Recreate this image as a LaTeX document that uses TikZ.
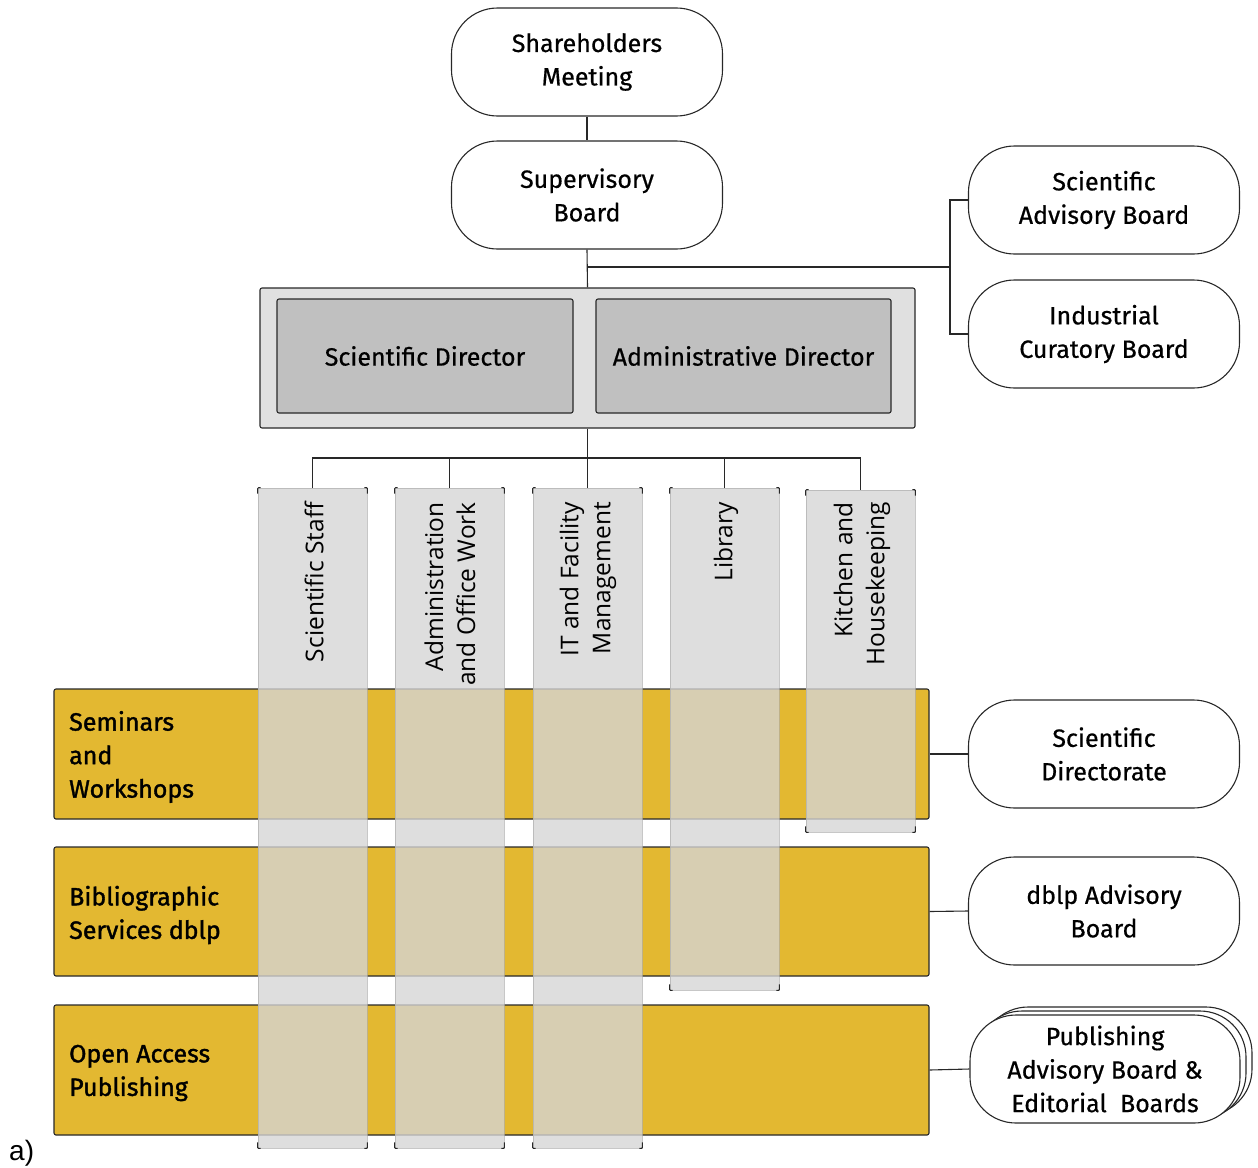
\documentclass[tikz,border=0pt]{standalone}
\usepackage{fontspec}
\setmainfont{Fira Sans}[FakeBold=0.6]
\newfontfamily\bandfont{Fira Sans}[FakeBold=1.4]
\newfontfamily\colfont{Open Sans}
\newfontfamily\arialfont{Liberation Sans}
\usetikzlibrary{shadows,calc}
\definecolor{bandyellow}{RGB}{227,184,49}
\definecolor{colgray}{RGB}{213,213,213}
\definecolor{dirouter}{RGB}{224,224,224}
\definecolor{dirinner}{RGB}{192,192,192}
\definecolor{coledge}{RGB}{175,175,175}
\definecolor{linecol}{RGB}{40,40,40}
\begin{document}
\begin{tikzpicture}[x=1pt,y=-1pt,
  txt/.style={font=\fontsize{25}{33.5}\selectfont},
  board/.style={txt, draw=linecol, line width=1.1pt, fill=white, rounded corners=46pt,
    minimum width=271pt, minimum height=108pt, align=center, inner sep=0pt,
    execute at begin node={\rule{0pt}{28pt}}},
  dirbox/.style={draw=linecol, line width=1.1pt, fill=dirouter, rounded corners=2pt,
    minimum width=655pt, minimum height=140pt},
  dirin/.style={txt, draw=linecol, line width=1.1pt, fill=dirinner, rounded corners=2pt,
    minimum height=114pt, inner sep=0pt},
  band/.style={draw=linecol, line width=1.1pt, fill=bandyellow, rounded corners=2pt,
    minimum width=875pt, inner sep=0pt},
  bandtxt/.style={font=\bandfont\fontsize{25}{33.5}\selectfont, align=left, inner sep=0pt, anchor=west},
  column/.style={fill=colgray, fill opacity=0.79, draw=coledge, draw opacity=0.7,
    line width=0.8pt, minimum width=109pt, inner sep=0pt},
  coltxt/.style={font=\colfont\fontsize{24.5}{32}\selectfont, rotate=90, anchor=east,
    align=right, inner sep=0pt},
  conn/.style={draw=linecol, line width=1.1pt},
  tick/.style={draw=linecol, line width=1pt, rounded corners=1pt}
]
\useasboundingbox (0,0) rectangle (1258,1167);

% top boards
\node[board] (sh) at (587,62) {Shareholders\\Meeting};
\node[board] (sup) at (587,195) {Supervisory\\Board};
\node[board] (sab) at (1104,200) {Scientific\\Advisory Board};
\node[board] (icb) at (1104,334) {Industrial\\Curatory Board};

% directors
\node[dirbox] (dir) at (587.5,358) {};
\node[dirin, minimum width=296pt] (sd) at (425,356) {Scientific Director};
\node[dirin, minimum width=295pt] (ad) at (743.5,356) {Administrative Director};

% bands
\node[band, minimum height=130pt] (b1) at (491.5,754) {};
\node[band, minimum height=129pt] (b2) at (491.5,911.5) {};
\node[band, minimum height=130pt] (b3) at (491.5,1070) {};
\node[bandtxt] (t1) at (69,757) {Seminars\\and\\Workshops};
\node[bandtxt] (t2) at (69,915) {Bibliographic\\Services dblp};
\node[bandtxt] (t3) at (69,1073) {Open Access\\Publishing};

% columns
\node[column, minimum height=660pt] (c1) at (312.5,818) {};
\node[column, minimum height=660pt] (c2) at (449.5,818) {};
\node[column, minimum height=660pt] (c3) at (587.5,818) {};
\node[column, minimum height=502pt] (c4) at (724.5,739) {};
\node[column, minimum height=342pt] (c5) at (860.5,661) {};
\foreach \c in {c1,c2,c3,c4,c5}{
  \draw[tick] ($(\c.north west)+(0,6)$) -- (\c.north west) -- ++(3,0);
  \draw[tick] ($(\c.north east)+(0,6)$) -- (\c.north east) -- ++(-3,0);
  \draw[tick] ($(\c.south west)+(0,-6)$) -- (\c.south west) -- ++(3,0);
  \draw[tick] ($(\c.south east)+(0,-6)$) -- (\c.south east) -- ++(-3,0);
}
\node[coltxt] (l1) at (314,502) {Scientific Staff};
\node[coltxt] (l2) at (450,502) {Administration\\and Office Work};
\node[coltxt] (l3) at (588,502) {IT and Facility\\Management};
\node[coltxt] (l4) at (726,502) {Library};
\node[coltxt] (l5) at (862,502) {Kitchen and\\Housekeeping};

% right boards
\node[board] (sdir) at (1104,754) {Scientific\\Directorate};
\node[board] (dblp) at (1104,911) {dblp Advisory\\Board};
\node[board, minimum width=270pt, double copy shadow={shadow xshift=6pt, shadow yshift=4pt,
  draw=linecol, line width=1.1pt, fill=white}] (pub) at (1105,1069)
  {Publishing\\Advisory Board \&\\Editorial\ \ Boards};

% connectors
\coordinate (j1) at (587,267);
\coordinate (j2) at (950,267);
\coordinate (bus) at (587,458);
\draw[conn] (sh) -- (sup);
\draw[conn] (sup.south) -- (dir.north);
\draw[conn] (j1) -- (j2);
\draw[conn] (sab.west) -| (j2) |- (icb.west);
\draw[conn] (dir.south) -- (c3.north);
\draw[conn] (c1.north) -- (c1.north |- bus) -- (c5.north |- bus) -- (c5.north);
\draw[conn] (c2.north) -- (c2.north |- bus);
\draw[conn] (c4.north) -- (c4.north |- bus);
\draw[conn] (b1.east) -- (sdir.west);
\draw[conn] (b2.east) -- (dblp.west);
\draw[conn] (b3.east) -- (pub.west);

\node[font=\arialfont\fontsize{28}{30}\selectfont, anchor=base west, inner sep=0pt] (lbl) at (9,1160) {a)};
\end{tikzpicture}
\end{document}
